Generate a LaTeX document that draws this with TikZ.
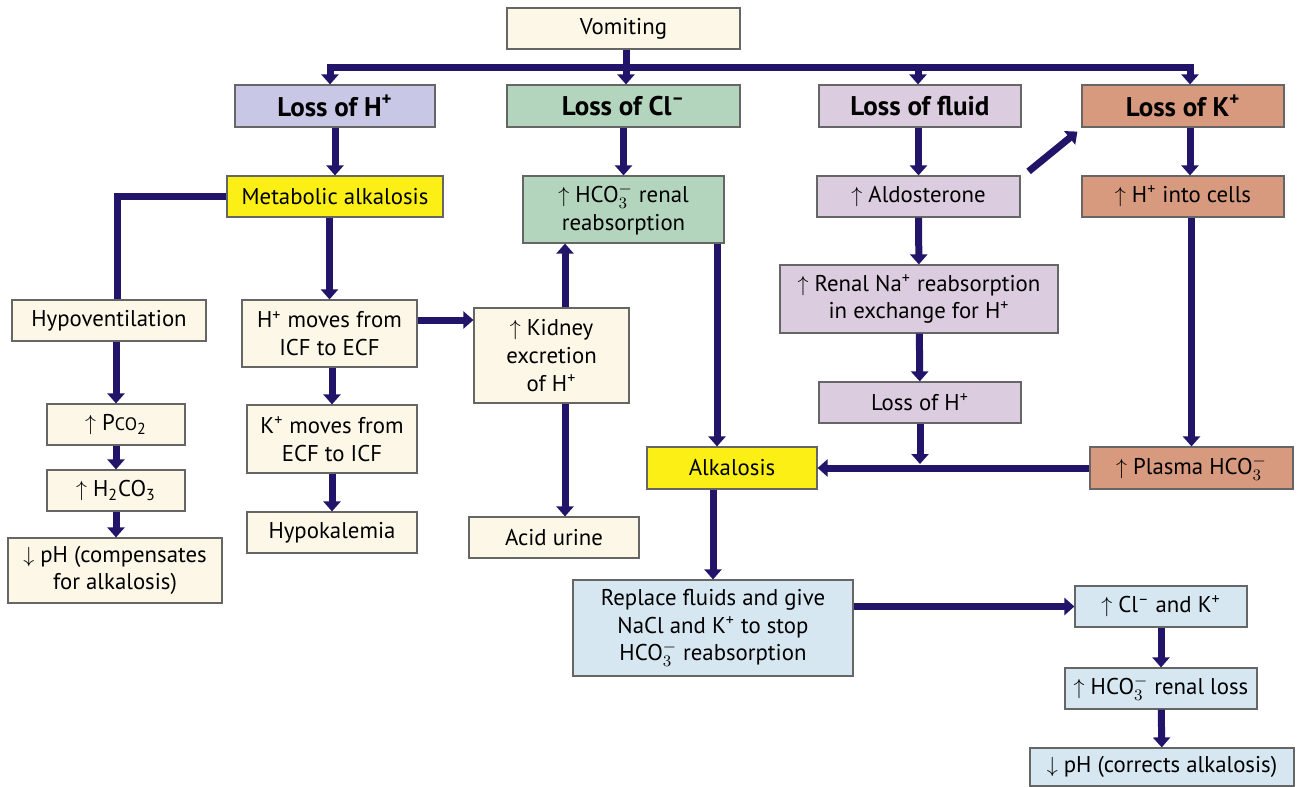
\documentclass[tikz,border=0pt]{standalone}
\usepackage{fontspec}
\setmainfont{PT Sans}
\usetikzlibrary{arrows.meta}
\definecolor{cream}{HTML}{FDF7E7}
\definecolor{lavH}{HTML}{C8C8E6}
\definecolor{mint}{HTML}{B3D4BD}
\definecolor{lavF}{HTML}{DCCCE0}
\definecolor{salmon}{HTML}{D89A7E}
\definecolor{lemon}{HTML}{FBEF16}
\definecolor{pale}{HTML}{D6E7F1}
\definecolor{navy}{HTML}{221468}
\newcommand\bicarb{HCO$_3^-$}
\begin{document}
\begin{tikzpicture}[x=0.5pt,y=-0.5pt,
  box/.style={draw=black!60,line width=0.6pt,inner sep=1pt,align=center,
    font=\fontsize{11.4}{13.8}\selectfont},
  head/.style={box,font=\fontsize{13.5}{15}\selectfont\bfseries},
  flow/.style={draw=navy,line width=3.5pt,-{Triangle[width=8.5pt,length=5pt]}},
  bar/.style={draw=navy,line width=3.5pt}]
  \useasboundingbox (0,0) rectangle (1302,787);
  % top row
  \node[box,fill=cream,minimum width=116.5pt,minimum height=20.5pt] (vom) at (623.5,28.5) {Vomiting};
  \node[head,fill=lavH,minimum width=100pt,minimum height=21pt] (lossH) at (335,106) {Loss of H\textsuperscript{+}};
  \node[head,fill=mint,minimum width=116.5pt,minimum height=21pt] (lossCl) at (623.5,106) {Loss of Cl\textsuperscript{–}};
  \node[head,fill=lavF,minimum width=101pt,minimum height=21pt] (lossF) at (920,106) {Loss of fluid};
  \node[head,fill=salmon,minimum width=101pt,minimum height=21pt] (lossK) at (1183,106) {Loss of K\textsuperscript{+}};
  % H+ branch
  \node[box,fill=lemon,minimum width=108pt,minimum height=20.5pt] (metab) at (335,196.5) {Metabolic alkalosis};
  \node[box,fill=cream,minimum width=97pt,minimum height=20.5pt] (hypo) at (109,320.5) {Hypoventilation};
  \node[box,fill=cream,minimum width=69pt,minimum height=20.5pt] (pco2) at (116,424.5) {$\uparrow$ P{\fontsize{9}{10}\selectfont CO}\textsubscript{2}};
  \node[box,fill=cream,minimum width=69pt,minimum height=20.5pt] (h2co3) at (116,490.5) {$\uparrow$ H\textsubscript{2}CO\textsubscript{3}};
  \node[box,fill=cream,minimum width=107pt,minimum height=32.5pt] (phcomp) at (115,570.5) {$\downarrow$ pH (compensates\\for alkalosis)};
  \node[box,fill=cream,minimum width=87.5pt,minimum height=33.5pt] (hmove) at (329.5,333.5) {H\textsuperscript{+} moves from\\ICF to ECF};
  \node[box,fill=cream,minimum width=85pt,minimum height=34pt] (kmove) at (332,439) {K\textsuperscript{+} moves from\\ECF to ICF};
  \node[box,fill=cream,minimum width=85pt,minimum height=20.5pt] (hypok) at (332,532.5) {Hypokalemia};
  % Cl- branch
  \node[box,fill=mint,minimum width=100.5pt,minimum height=33.5pt] (reab) at (623.5,209.5) {$\uparrow$ \bicarb\ renal\\reabsorption};
  \node[box,fill=cream,minimum width=77.5pt,minimum height=47.5pt] (kidney) at (551.5,355.5) {$\uparrow$ Kidney\\excretion\\of H\textsuperscript{+}};
  \node[box,fill=cream,minimum width=85pt,minimum height=20.5pt] (acid) at (554,537.5) {Acid urine};
  \node[box,fill=lemon,minimum width=85pt,minimum height=21pt] (alk) at (732,468) {Alkalosis};
  % fluid and K+ branches
  \node[box,fill=lavF,minimum width=101.5pt,minimum height=20.5pt] (aldo) at (918.5,196.5) {$\uparrow$ Aldosterone};
  \node[box,fill=lavF,minimum width=139pt,minimum height=34pt] (renal) at (919,299) {$\uparrow$ Renal Na\textsuperscript{+} reabsorption\\in exchange for H\textsuperscript{+}};
  \node[box,fill=lavF,minimum width=101pt,minimum height=20.5pt] (lossH2) at (920,402.5) {Loss of H\textsuperscript{+}};
  \node[box,fill=salmon,minimum width=101pt,minimum height=20.5pt] (hcells) at (1183,196.5) {$\uparrow$ H\textsuperscript{+} into cells};
  \node[box,fill=salmon,minimum width=101.5pt,minimum height=21pt] (plasma) at (1191.5,468) {$\uparrow$ Plasma \bicarb};
  % treatment
  \node[box,fill=pale,minimum width=140pt,minimum height=48pt] (replace) at (713,628) {Replace fluids and give\\NaCl and K\textsuperscript{+} to stop\\\bicarb\ reabsorption};
  \node[box,fill=pale,minimum width=86pt,minimum height=20.5pt] (cl) at (1161,606.5) {$\uparrow$ Cl\textsuperscript{–} and K\textsuperscript{+}};
  \node[box,fill=pale,minimum width=96pt,minimum height=20.5pt] (hloss) at (1161,688.5) {$\uparrow$ \bicarb\ renal loss};
  \node[box,fill=pale,minimum width=132pt,minimum height=19pt] (phcor) at (1162,767) {$\downarrow$ pH (corrects alkalosis)};
  % connectors
  \coordinate (bus) at (626,67);
  \draw[bar] (vom.south -| bus) -- (bus);
  \draw[flow] (bus) -- (lossCl.north -| bus);
  \draw[flow] (bus) -| ([xshift=-2.5pt]lossH.north);
  \draw[flow] (bus) -| ([xshift=-1pt]lossF.north);
  \draw[flow] (bus) -| ([xshift=3.5pt]lossK.north);
  \draw[flow] (lossH) -- (metab);
  \draw[bar] (metab.west) -| ([xshift=4pt]hypo.north);
  \draw[flow] (pco2 |- hypo.south) -- (pco2.north);
  \draw[flow] (pco2) -- (h2co3);
  \draw[flow] (h2co3.south) -- (h2co3.south |- phcomp.north);
  \draw[flow] (hmove |- metab.south) -- (hmove.north);
  \draw[flow] (kmove |- hmove.south) -- (kmove.north);
  \draw[flow] (kmove) -- (hypok);
  \draw[flow] ([yshift=6.75pt]hmove.east) -- ([yshift=6.75pt]hmove.east -| kidney.west);
  \draw[flow] (lossCl) -- (reab);
  \draw[flow] ([xshift=6.75pt]kidney.north) -- ([xshift=6.75pt]kidney.north |- reab.south);
  \draw[flow] ([xshift=6.75pt]kidney.south) -- ([xshift=6.75pt]kidney.south |- acid.north);
  \draw[flow] ([xshift=-7.5pt]alk.north |- reab.south) -- ([xshift=-7.5pt]alk.north);
  \draw[flow] (aldo |- lossF.south) -- (aldo.north);
  \draw[flow] ([xshift=4pt,yshift=2pt]aldo.north east) -- ([xshift=-2pt,yshift=-2pt]lossK.south west);
  \draw[flow] (aldo) -- (renal);
  \draw[flow] (renal) -- (lossH2);
  \coordinate (join) at ([yshift=2pt]lossH2 |- alk);
  \draw[flow] (lossH2) -- (join);
  \draw[flow] ([xshift=3.5pt]lossK.south) -- ([xshift=3.5pt]lossK.south |- hcells.north);
  \draw[flow] (plasma |- hcells.south) -- (plasma.north);
  \draw[flow] (plasma) -- (alk);
  \draw[flow] (replace |- alk.south) -- (replace.north);
  \draw[flow] (replace.east |- cl) -- (cl.west);
  \draw[flow] (cl) -- (hloss);
  \draw[flow] (hloss) -- (phcor);
\end{tikzpicture}
\end{document}
